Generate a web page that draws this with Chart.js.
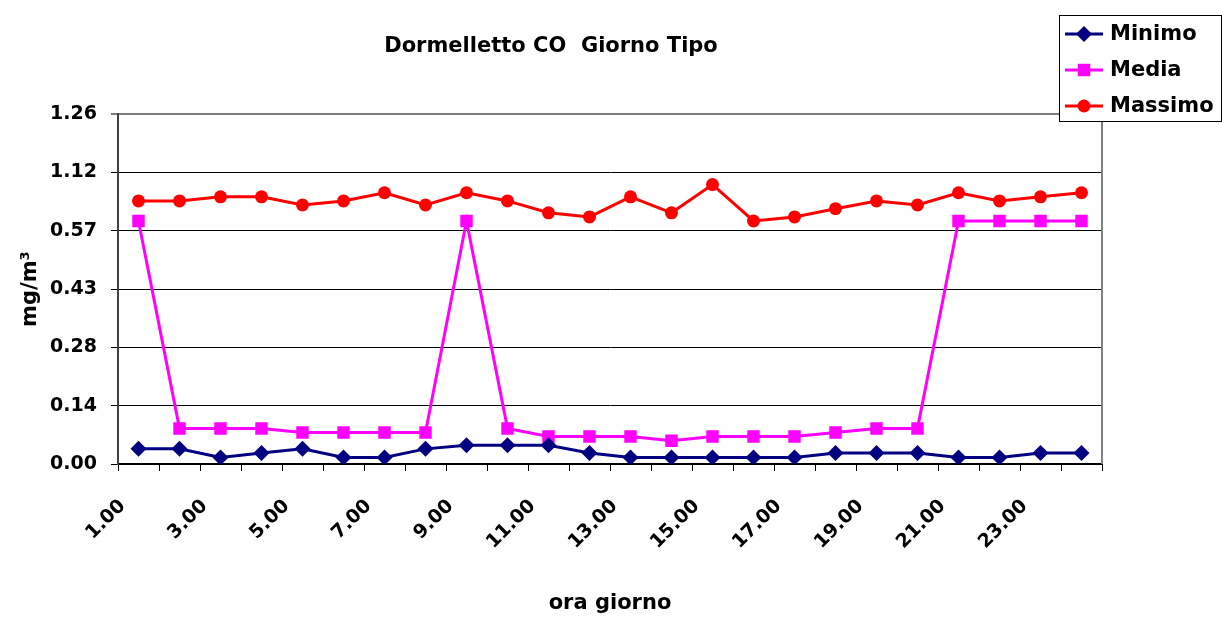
<!DOCTYPE html>
<html>
<head>
<meta charset="utf-8">
<title>Dormelletto CO Giorno Tipo</title>
<script src="https://cdn.jsdelivr.net/npm/chart.js@4.4.1/dist/chart.umd.min.js"></script>
<style>
  html, body { margin: 0; padding: 0; background: #ffffff; }
  canvas { display: block; }
</style>
</head>
<body>
<canvas id="chart" width="1222" height="619"></canvas>
<script>
// Hour of the day (categories)
const hours = ['1.00', '2.00', '3.00', '4.00', '5.00', '6.00', '7.00', '8.00',
  '9.00', '10.00', '11.00', '12.00', '13.00', '14.00', '15.00', '16.00',
  '17.00', '18.00', '19.00', '20.00', '21.00', '22.00', '23.00', '24.00'];

// CO concentrations, mg/m3
const minimo = [0.037, 0.037, 0.016, 0.027, 0.037, 0.016, 0.016, 0.037,
  0.046, 0.046, 0.046, 0.027, 0.016, 0.016, 0.016, 0.016,
  0.016, 0.027, 0.027, 0.027, 0.016, 0.016, 0.027, 0.027];
const media = [0.594, 0.087, 0.087, 0.087, 0.077, 0.077, 0.077, 0.077,
  0.594, 0.087, 0.067, 0.067, 0.067, 0.057, 0.067, 0.067,
  0.067, 0.077, 0.087, 0.087, 0.594, 0.594, 0.594, 0.594];
const massimo = [0.643, 0.643, 0.653, 0.653, 0.633, 0.643, 0.663, 0.633,
  0.663, 0.643, 0.614, 0.604, 0.653, 0.614, 0.683, 0.594,
  0.604, 0.624, 0.643, 0.633, 0.663, 0.643, 0.653, 0.663];

// Value axis labels, one per gridline, evenly spaced
const yTickLabels = ['0.00', '0.14', '0.28', '0.43', '0.57', '1.12', '1.26'];
const yStep = 0.1425;

const FONT = "'DejaVu Sans', 'Liberation Sans', sans-serif";
const yMax = yStep * (yTickLabels.length - 1);

// Boxed legend in the top-right corner
const boxLegend = {
  id: 'boxLegend',
  afterDraw(chart) {
    const ctx = chart.ctx;
    ctx.save();
    ctx.fillStyle = '#ffffff';
    ctx.fillRect(1059, 15, 163, 107);
    ctx.strokeStyle = '#000000';
    ctx.lineWidth = 1;
    ctx.strokeRect(1059.5, 15.5, 162, 106);
    chart.data.datasets.forEach((ds, i) => {
      const y = 34 + i * 36;
      ctx.strokeStyle = ds.borderColor;
      ctx.lineWidth = 3;
      ctx.beginPath();
      ctx.moveTo(1065, y);
      ctx.lineTo(1103, y);
      ctx.stroke();
      ctx.fillStyle = ds.pointBackgroundColor;
      ctx.strokeStyle = ds.pointBorderColor;
      Chart.helpers.drawPoint(ctx, {
        pointStyle: ds.pointStyle,
        radius: ds.pointRadius,
        borderWidth: 0,
        rotation: 0
      }, 1084, y);
      ctx.fillStyle = '#000000';
      ctx.font = 'bold 21px ' + FONT;
      ctx.textAlign = 'left';
      ctx.textBaseline = 'middle';
      ctx.fillText(ds.label, 1110, y + 1);
    });
    ctx.restore();
  }
};

// Grey right-hand edge of the plot area
const plotFrame = {
  id: 'plotFrame',
  beforeDatasetsDraw(chart) {
    const { ctx, chartArea: a } = chart;
    ctx.save();
    ctx.strokeStyle = '#808080';
    ctx.lineWidth = 2;
    ctx.beginPath();
    ctx.moveTo(a.right, a.top);
    ctx.lineTo(a.right, a.bottom);
    ctx.stroke();
    ctx.restore();
  }
};

new Chart(document.getElementById('chart'), {
  type: 'line',
  data: {
    labels: hours,
    datasets: [
      {
        label: 'Minimo',
        data: minimo,
        borderColor: '#000080',
        backgroundColor: '#000080',
        pointBackgroundColor: '#000080',
        pointBorderColor: '#000080',
        pointStyle: 'rectRot',
        pointRadius: 8,
        pointBorderWidth: 0,
        borderWidth: 3,
        tension: 0
      },
      {
        label: 'Media',
        data: media,
        borderColor: '#ff00ff',
        backgroundColor: '#ff00ff',
        pointBackgroundColor: '#ff00ff',
        pointBorderColor: '#ff00ff',
        pointStyle: 'rect',
        pointRadius: 8.8,
        pointBorderWidth: 0,
        borderWidth: 3,
        tension: 0
      },
      {
        label: 'Massimo',
        data: massimo,
        borderColor: '#ff0000',
        backgroundColor: '#ff0000',
        pointBackgroundColor: '#ff0000',
        pointBorderColor: '#ff0000',
        pointStyle: 'circle',
        pointRadius: 6.5,
        pointBorderWidth: 0,
        borderWidth: 3,
        tension: 0
      }
    ]
  },
  options: {
    responsive: false,
    animation: false,
    devicePixelRatio: 1,
    layout: { padding: { left: 0, right: 120, top: 0, bottom: 0 } },
    plugins: {
      legend: { display: false },
      tooltip: { enabled: false },
      title: {
        display: true,
        text: 'Dormelletto CO  Giorno Tipo',
        color: '#000000',
        font: { family: FONT, size: 21, weight: 'bold' },
        padding: { top: 34, bottom: 55 }
      }
    },
    scales: {
      x: {
        type: 'category',
        offset: true,
        afterFit: (s) => { s.height = 155; },
        grid: {
          offset: true,
          drawOnChartArea: false,
          drawTicks: true,
          tickLength: 7,
          color: '#000000'
        },
        border: { display: true, color: '#000000', width: 2 },
        ticks: {
          autoSkip: false,
          maxRotation: 45,
          minRotation: 45,
          padding: 24,
          labelOffset: -16,
          color: '#000000',
          font: { family: FONT, size: 19, weight: 'bold' },
          callback: (v, i) => (i % 2 === 0 ? hours[i] : '')
        },
        title: {
          display: true,
          text: 'ora giorno',
          color: '#000000',
          font: { family: FONT, size: 21, weight: 'bold' },
          padding: { top: 0, bottom: 3 }
        }
      },
      y: {
        min: 0,
        max: yMax,
        afterFit: (s) => { s.width = 118; },
        afterBuildTicks: (s) => {
          s.ticks = yTickLabels.map((_, i) => ({ value: i === yTickLabels.length - 1 ? yMax : i * yStep }));
        },
        grid: {
          color: (c) => (c.index === yTickLabels.length - 1 ? '#808080' : '#000000'),
          lineWidth: (c) => (c.index === yTickLabels.length - 1 ? 2 : 1),
          tickColor: '#000000',
          tickWidth: 1,
          tickLength: 7
        },
        border: { display: true, color: '#404040', width: 2 },
        ticks: {
          padding: 14,
          color: '#000000',
          font: { family: FONT, size: 19, weight: 'bold' },
          callback: (v, i) => yTickLabels[i]
        },
        title: {
          display: true,
          text: 'mg/m³',
          color: '#000000',
          font: { family: FONT, size: 21, weight: 'bold' },
          padding: { top: 18, bottom: 0 }
        }
      }
    }
  },
  plugins: [plotFrame, boxLegend]
});
</script>
</body>
</html>
